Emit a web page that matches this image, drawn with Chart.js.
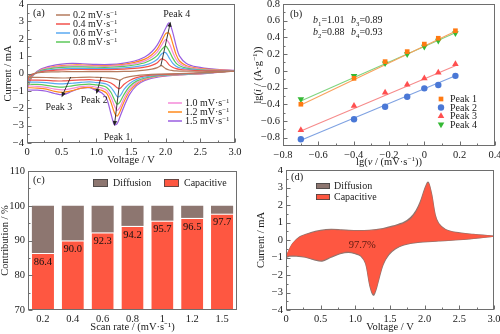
<!DOCTYPE html>
<html>
<head>
<meta charset="utf-8">
<script src="https://cdn.jsdelivr.net/npm/chart.js@4.4.0/dist/chart.umd.min.js"></script>
<style>
  html, body { margin: 0; padding: 0; background: #fff; }
  #wrap { position: relative; width: 500px; height: 334px; overflow: hidden; }
  .panel { position: absolute; width: 250px; height: 167px; }
  canvas { display: block; }
</style>
</head>
<body>
<div id="wrap">
  <div class="panel" style="left:0;top:0"><canvas id="cvA" width="250" height="167"></canvas></div>
  <div class="panel" style="left:250px;top:0"><canvas id="cvB" width="250" height="167"></canvas></div>
  <div class="panel" style="left:0;top:167px"><canvas id="cvC" width="250" height="167"></canvas></div>
  <div class="panel" style="left:250px;top:167px"><canvas id="cvD" width="250" height="167"></canvas></div>
</div>
<script>
// ---------- (a) CV curves at several scan rates ----------
const scanRates = ['0.2', '0.4', '0.6', '0.8', '1.0', '1.2', '1.5'];
const voltUp = [0, 0.05, 0.1, 0.2, 0.35, 0.5, 0.65, 0.8, 1.0, 1.2, 1.4, 1.55, 1.7, 1.8, 1.88, 1.94, 2.0, 2.05, 2.1, 2.15, 2.2, 2.3, 2.45, 2.7, 3.0];
const voltDown = [3.0, 2.6, 2.2, 1.9, 1.7, 1.58, 1.48, 1.4, 1.34, 1.3, 1.26, 1.21, 1.15, 1.08, 1.0, 0.9, 0.78, 0.65, 0.52, 0.4, 0.28, 0.15, 0.05, 0];

const up02 = [-0.22, -0.08, 0.0, 0.06, 0.09, 0.1, 0.11, 0.11, 0.11, 0.11, 0.12, 0.14, 0.19, 0.25, 0.34, 0.45, 0.28, 0.2, 0.17, 0.15, 0.14, 0.13, 0.13, 0.13, 0.13];
const down02 = [0.13, 0.06, 0.0, -0.04, -0.08, -0.12, -0.18, -0.26, -0.38, -0.34, -0.3, -0.27, -0.25, -0.23, -0.22, -0.21, -0.22, -0.24, -0.26, -0.25, -0.23, -0.22, -0.22, -0.22];
const up04 = [-0.38, -0.15, -0.02, 0.1, 0.17, 0.21, 0.23, 0.23, 0.22, 0.22, 0.25, 0.29, 0.37, 0.47, 0.62, 0.84, 0.74, 0.5, 0.36, 0.28, 0.24, 0.2, 0.17, 0.15, 0.14];
const down04 = [0.14, 0.05, -0.02, -0.07, -0.14, -0.24, -0.4, -0.62, -0.86, -0.82, -0.68, -0.55, -0.46, -0.41, -0.39, -0.35, -0.37, -0.4, -0.43, -0.42, -0.39, -0.38, -0.38, -0.38];
const up06 = [-0.5, -0.2, -0.04, 0.13, 0.22, 0.27, 0.29, 0.29, 0.28, 0.28, 0.32, 0.38, 0.48, 0.62, 0.82, 1.12, 1.2, 0.9, 0.6, 0.42, 0.33, 0.25, 0.2, 0.16, 0.15];
const down06 = [0.15, 0.04, -0.04, -0.1, -0.2, -0.34, -0.58, -0.92, -1.3, -1.32, -1.08, -0.8, -0.62, -0.55, -0.52, -0.48, -0.51, -0.56, -0.6, -0.58, -0.53, -0.5, -0.5, -0.5];
const up08 = [-0.62, -0.25, -0.05, 0.17, 0.29, 0.35, 0.38, 0.38, 0.36, 0.36, 0.41, 0.49, 0.62, 0.8, 1.04, 1.36, 1.58, 1.3, 0.9, 0.6, 0.45, 0.31, 0.23, 0.18, 0.16];
const down08 = [0.16, 0.04, -0.05, -0.12, -0.26, -0.44, -0.75, -1.2, -1.65, -1.76, -1.5, -1.08, -0.8, -0.7, -0.66, -0.61, -0.64, -0.71, -0.78, -0.75, -0.68, -0.63, -0.62, -0.62];
const up10 = [-0.72, -0.28, -0.06, 0.2, 0.34, 0.41, 0.44, 0.44, 0.42, 0.42, 0.48, 0.57, 0.73, 0.95, 1.25, 1.62, 1.95, 1.75, 1.25, 0.82, 0.58, 0.38, 0.27, 0.2, 0.17];
const down10 = [0.17, 0.03, -0.06, -0.14, -0.3, -0.53, -0.9, -1.42, -1.95, -2.12, -1.85, -1.35, -0.98, -0.84, -0.79, -0.72, -0.76, -0.86, -0.94, -0.9, -0.8, -0.74, -0.72, -0.72];
const up12 = [-0.82, -0.32, -0.06, 0.22, 0.37, 0.45, 0.49, 0.49, 0.46, 0.46, 0.53, 0.64, 0.83, 1.08, 1.42, 1.85, 2.3, 2.32, 1.75, 1.1, 0.72, 0.45, 0.31, 0.22, 0.17];
const down12 = [0.17, 0.02, -0.07, -0.16, -0.34, -0.6, -1.02, -1.62, -2.2, -2.45, -2.25, -1.65, -1.15, -0.97, -0.9, -0.8, -0.84, -0.99, -1.08, -1.03, -0.9, -0.84, -0.82, -0.82];
const up15 = [-0.95, -0.38, -0.05, 0.25, 0.44, 0.54, 0.58, 0.56, 0.52, 0.52, 0.6, 0.72, 0.95, 1.25, 1.65, 2.1, 2.6, 2.92, 2.4, 1.6, 1.0, 0.58, 0.38, 0.25, 0.18];
const down15 = [0.18, 0.01, -0.08, -0.2, -0.4, -0.7, -1.2, -1.9, -2.5, -2.88, -2.95, -2.3, -1.45, -1.12, -0.98, -0.82, -0.85, -1.02, -1.22, -1.15, -1.02, -0.96, -0.95, -0.95];

// ---------- (b) log peak current vs log scan rate ----------
const lgRate = [-0.699, -0.398, -0.222, -0.097, 0, 0.079, 0.176];
const lgPeak1 = [-0.40, -0.09, 0.11, 0.23, 0.32, 0.39, 0.48];
const lgPeak2 = [-0.82, -0.58, -0.43, -0.31, -0.21, -0.17, -0.06];
const lgPeak3 = [-0.71, -0.42, -0.26, -0.165, -0.09, -0.02, 0.08];
const lgPeak4 = [-0.34, -0.06, 0.09, 0.20, 0.29, 0.36, 0.45];
const fitX = [-0.699, 0.176];
const fitPeak1 = [-0.41, 0.475];
const fitPeak2 = [-0.83, -0.06];
const fitPeak3 = [-0.72, 0.06];
const fitPeak4 = [-0.36, 0.455];
const bValues = ['1.01', '0.88', '0.89', '0.93'];
const bTicksX = [-0.8, -0.6, -0.4, -0.2, 0, 0.2, 0.4];
const bTicksY = [-0.8, -0.6, -0.4, -0.2, 0, 0.2, 0.4, 0.6, 0.8];

// ---------- (c) contribution ratio ----------
const rateLabels = ['0.2', '0.4', '0.6', '0.8', '1', '1.2', '1.5'];
const capacitive = [86.4, 90.0, 92.3, 94.2, 95.7, 96.5, 97.7];
const diffusion = [13.6, 10.0, 7.7, 5.8, 4.3, 3.5, 2.3];

// ---------- (d) separated CV at 1.5 mV/s ----------
const totalUp = [-1.0, -0.55, -0.2, 0.18, 0.4, 0.54, 0.6, 0.57, 0.53, 0.55, 0.65, 0.8, 1.0, 1.28, 1.7, 2.2, 2.9, 3.3, 2.6, 1.45, 0.95, 0.6, 0.43, 0.32, 0.22];
const totalDown = [0.22, 0.05, -0.05, -0.13, -0.28, -0.5, -0.85, -1.4, -2.2, -2.8, -3.15, -2.6, -1.35, -0.92, -0.78, -0.7, -0.78, -0.98, -1.2, -1.12, -0.98, -0.92, -0.92, -1.0];
const capUp = [-0.95, -0.52, -0.18, 0.16, 0.37, 0.51, 0.57, 0.55, 0.51, 0.53, 0.62, 0.76, 0.95, 1.2, 1.62, 2.12, 2.84, 3.26, 2.56, 1.42, 0.93, 0.58, 0.41, 0.31, 0.21];
const capDown = [0.21, 0.06, -0.04, -0.11, -0.25, -0.46, -0.8, -1.35, -2.15, -2.75, -3.08, -2.55, -1.32, -0.88, -0.74, -0.66, -0.74, -0.94, -1.15, -1.08, -0.95, -0.88, -0.88, -0.95];
const capShare = '97.7%';

const FONT = '"Liberation Serif", "Times New Roman", serif';
Chart.defaults.font.family = FONT;
Chart.defaults.font.size = 10.5;
Chart.defaults.color = '#1a1a1a';
Chart.defaults.animation = false;
Chart.defaults.responsive = false;
Chart.defaults.plugins.legend.display = false;
Chart.defaults.plugins.tooltip.enabled = false;

const cvColors = ['#b47b5e', '#f2524c', '#5aaaf2', '#5cc85a', '#f58ad8', '#ff8a1c', '#9a5ee0'];
const RED = '#fe5741';
const GREY = '#8d7670';

function loop(up, down) {
  return voltUp.map((v, i) => ({ x: v, y: up[i] }))
    .concat(voltDown.map((v, i) => ({ x: v, y: down[i] })));
}

function minus(s) { return String(s).replace('-', '\u2212'); }
function fmt1(v) { return Math.abs(v) < 1e-9 ? '0' : minus(Number(v).toFixed(1)); }

// fixed-size axis boxes so every plot area lands at a fixed spot
function axis(size, extra) {
  const base = {
    grid: { display: false, drawTicks: false },
    border: { display: false },
    afterFit(s) {
      if (s.isHorizontal()) s.height = size; else s.width = size;
      s.paddingLeft = s.paddingRight = s.paddingTop = s.paddingBottom = 0;
    }
  };
  const out = Object.assign(base, extra);
  out.ticks = Object.assign({ padding: 3, maxRotation: 0, autoSkip: false, font: { size: 10.5 } }, extra.ticks || {});
  return out;
}

// text with italic / sub / superscript runs
function rich(ctx, parts, x, y, size, opt = {}) {
  const fonts = parts.map(p => (p.i ? 'italic ' : '') + (p.s ? size * 0.68 : size) + 'px ' + FONT);
  let w = 0;
  parts.forEach((p, k) => { ctx.font = fonts[k]; w += ctx.measureText(p.t).width; });
  ctx.save();
  ctx.translate(x, y);
  if (opt.rotate) ctx.rotate(-Math.PI / 2);
  let cx = opt.align === 'left' ? 0 : -w / 2;
  ctx.textBaseline = 'alphabetic';
  ctx.textAlign = 'left';
  parts.forEach((p, k) => {
    ctx.font = fonts[k];
    const dy = p.s === 'sup' ? -size * 0.38 : p.s === 'sub' ? size * 0.22 : 0;
    ctx.fillText(p.t, cx, size * 0.34 + dy);
    cx += ctx.measureText(p.t).width;
  });
  ctx.restore();
}

// box frame with inward major/minor ticks on the bottom and left
const frame = {
  id: 'frame',
  afterDatasetsDraw(chart) {
    const { ctx, chartArea: a, scales } = chart;
    ctx.save();
    ctx.strokeStyle = '#6e6e6e';
    ctx.lineWidth = 1;
    const L = Math.round(a.left) + 0.5, T = Math.round(a.top) + 0.5;
    const R = Math.round(a.right) - 0.5, B = Math.round(a.bottom) - 0.5;
    ctx.strokeRect(L, T, R - L, B - T);
    ctx.beginPath();
    ['x', 'y'].forEach(id => {
      const s = scales[id];
      if (s.type === 'category') return;
      const vals = s.ticks.map(t => t.value);
      const marks = [];
      vals.forEach((v, i) => {
        marks.push([v, 4]);
        if (i < vals.length - 1) marks.push([(v + vals[i + 1]) / 2, 2]);
      });
      marks.forEach(([v, len]) => {
        const p = Math.round(s.getPixelForValue(v)) + 0.5;
        if (id === 'x') { ctx.moveTo(p, B); ctx.lineTo(p, B - len); }
        else { ctx.moveTo(L, p); ctx.lineTo(L + len, p); }
      });
    });
    ctx.stroke();
    ctx.restore();
  }
};

function panelTag(text, x, y) {
  return {
    id: 'tag',
    afterDraw(chart) {
      const ctx = chart.ctx;
      ctx.save();
      ctx.font = '10.5px ' + FONT;
      ctx.fillStyle = '#1a1a1a';
      ctx.textBaseline = 'middle';
      ctx.fillText(text, x, y);
      ctx.restore();
    }
  };
}

// ---------- chart (a) ----------
const cvSets = [[up02, down02], [up04, down04], [up06, down06], [up08, down08], [up10, down10], [up12, down12], [up15, down15]];

// peak markers: arrow from the slowest to the fastest scan, in volts / mA
const peakMarks = [
  { text: 'Peak 1', from: [1.34, -0.38], to: [1.26, -3.02], at: [1.30, -3.62] },
  { text: 'Peak 2', from: [1.07, -0.2], to: [1.0, -1.18], at: [0.97, -1.5] },
  { text: 'Peak 3', from: [0.63, -0.2], to: [0.5, -1.36], at: [0.46, -1.88] },
  { text: 'Peak 4', from: [1.93, 0.44], to: [2.07, 2.98], at: [2.16, 3.42] }
];

const cvDecor = {
  id: 'cvDecor',
  afterDraw(chart) {
    const { ctx, scales: { x, y } } = chart;
    ctx.save();
    ctx.strokeStyle = '#222';
    ctx.fillStyle = '#222';
    ctx.lineWidth = 0.9;
    peakMarks.forEach(m => {
      const x0 = x.getPixelForValue(m.from[0]), y0 = y.getPixelForValue(m.from[1]);
      const x1 = x.getPixelForValue(m.to[0]), y1 = y.getPixelForValue(m.to[1]);
      const ang = Math.atan2(y1 - y0, x1 - x0);
      ctx.beginPath();
      ctx.moveTo(x0, y0);
      ctx.lineTo(x1 - 4 * Math.cos(ang), y1 - 4 * Math.sin(ang));
      ctx.stroke();
      ctx.beginPath();
      ctx.moveTo(x1, y1);
      ctx.lineTo(x1 - 5 * Math.cos(ang) + 2.2 * Math.sin(ang), y1 - 5 * Math.sin(ang) - 2.2 * Math.cos(ang));
      ctx.lineTo(x1 - 5 * Math.cos(ang) - 2.2 * Math.sin(ang), y1 - 5 * Math.sin(ang) + 2.2 * Math.cos(ang));
      ctx.closePath();
      ctx.fill();
      rich(ctx, [{ t: m.text }], x.getPixelForValue(m.at[0]), y.getPixelForValue(m.at[1]), 10);
    });
    // legend in two groups
    chart.data.datasets.forEach((ds, i) => {
      const lx = i < 4 ? 56 : 168;
      const ly = i < 4 ? 15 + i * 9 : 103 + (i - 4) * 9;
      ctx.strokeStyle = ds.borderColor;
      ctx.lineWidth = 1.5;
      ctx.beginPath();
      ctx.moveTo(lx, ly);
      ctx.lineTo(lx + 14, ly);
      ctx.stroke();
      ctx.fillStyle = '#1a1a1a';
      rich(ctx, [{ t: scanRates[i] + ' mV\u00b7s' }, { t: '\u22121', s: 'sup' }], lx + 17, ly, 10, { align: 'left' });
    });
    ctx.restore();
  }
};

new Chart(document.getElementById('cvA'), {
  type: 'line',
  data: {
    datasets: cvSets.map((s, i) => ({
      label: scanRates[i],
      data: loop(s[0], s[1]),
      borderColor: cvColors[i],
      borderWidth: 1.2,
      pointRadius: 0,
      tension: 0.3,
      fill: false
    }))
  },
  options: {
    layout: { padding: { left: 0, top: 4, right: 15, bottom: 0 } },
    scales: {
      x: axis(24, { type: 'linear', min: 0, max: 3, ticks: { stepSize: 0.5, callback: fmt1 },
        title: { display: true, text: 'Voltage / V', padding: { top: 0, bottom: 0 }, font: { size: 10.5 } } }),
      y: axis(27, { type: 'linear', min: -4, max: 4, ticks: { stepSize: 1, callback: v => minus(v) },
        title: { display: true, text: 'Current / mA', padding: { top: 1.5, bottom: 0 }, font: { size: 10.5 } } })
    }
  },
  plugins: [frame, cvDecor, panelTag('(a)', 33, 13)]
});

// ---------- chart (b) ----------
const peakStyles = [
  { label: 'Peak 1', data: lgPeak1, fit: fitPeak1, color: '#ff7a12', line: '#f9a25e', style: 'rect', rot: 0, r: 3.3 },
  { label: 'Peak 2', data: lgPeak2, fit: fitPeak2, color: '#4a78d6', line: '#7fa2e2', style: 'circle', rot: 0, r: 3.2 },
  { label: 'Peak 3', data: lgPeak3, fit: fitPeak3, color: '#ff4f4f', line: '#f68b8b', style: 'triangle', rot: 0, r: 3.8 },
  { label: 'Peak 4', data: lgPeak4, fit: fitPeak4, color: '#35b935', line: '#7fd47f', style: 'triangle', rot: 180, r: 3.8 }
];

const bDecor = {
  id: 'bDecor',
  afterDraw(chart) {
    const ctx = chart.ctx;
    ctx.save();
    ctx.fillStyle = '#1a1a1a';
    // fitted slopes
    const spots = [[63, 20], [63, 32], [101, 20], [101, 32]];
    bValues.forEach((b, i) => {
      rich(ctx, [{ t: 'b', i: 1 }, { t: String(i + 1), s: 'sub' }, { t: '=' + b }], spots[i][0], spots[i][1], 10, { align: 'left' });
    });
    // axis titles
    const a = chart.chartArea;
    rich(ctx, [{ t: 'lg(' }, { t: 'i', i: 1 }, { t: ' / (A\u00b7g' }, { t: '\u22121', s: 'sup' }, { t: '))' }], 7, (a.top + a.bottom) / 2, 10.5, { rotate: true });
    rich(ctx, [{ t: 'lg(' }, { t: 'v', i: 1 }, { t: ' / (mV\u00b7s' }, { t: '\u22121', s: 'sup' }, { t: '))' }], (a.left + a.right) / 2, 161, 10.5);
    // legend
    peakStyles.forEach((p, i) => {
      const ly = 99 + i * 8.5;
      ctx.fillStyle = p.color;
      Chart.helpers.drawPoint(ctx, { pointStyle: p.style, rotation: p.rot, radius: p.r, borderWidth: 0 }, 191, ly);
      ctx.fillStyle = '#1a1a1a';
      rich(ctx, [{ t: p.label }], 200, ly, 10, { align: 'left' });
    });
    ctx.restore();
  }
};

function fixedTicks(list) {
  return {
    afterBuildTicks(s) { s.ticks = list.map(v => ({ value: v })); },
    afterTickToLabelConversion(s) { s.ticks.forEach(t => { t.label = fmt1(t.value); }); }
  };
}

new Chart(document.getElementById('cvB'), {
  type: 'scatter',
  data: {
    datasets: peakStyles.map(p => ({
      data: lgRate.map((v, i) => ({ x: v, y: p.data[i] })),
      backgroundColor: p.color,
      borderWidth: 0,
      pointStyle: p.style,
      rotation: p.rot,
      pointRadius: p.r
    })).concat(peakStyles.map(p => ({
      data: fitX.map((v, i) => ({ x: v, y: p.fit[i] })),
      showLine: true,
      borderColor: p.line,
      borderWidth: 1.1,
      pointRadius: 0
    })))
  },
  options: {
    layout: { padding: { left: 0, top: 4, right: 5, bottom: 0 } },
    scales: {
      x: axis(21, Object.assign({ type: 'linear', min: -0.8, max: 0.4 }, fixedTicks(bTicksX))),
      y: axis(33, Object.assign({ type: 'linear', min: -0.9, max: 0.8 }, fixedTicks(bTicksY)))
    }
  },
  plugins: [frame, bDecor, panelTag('(b)', 40, 14)]
});

// ---------- chart (c) ----------
const barDecor = {
  id: 'barDecor',
  afterDraw(chart) {
    const ctx = chart.ctx;
    ctx.save();
    ctx.fillStyle = '#111';
    ctx.textAlign = 'center';
    ctx.textBaseline = 'middle';
    ctx.font = '10.5px ' + FONT;
    chart.getDatasetMeta(0).data.forEach((bar, i) => {
      ctx.fillText(capacitive[i].toFixed(1), bar.x, bar.y + 9);
    });
    // legend boxes
    [[93, 'Diffusion', GREY], [164, 'Capacitive', RED]].forEach(([lx, txt, col]) => {
      ctx.fillStyle = col;
      ctx.fillRect(lx, 12, 15, 8);
      ctx.strokeStyle = '#444';
      ctx.lineWidth = 0.8;
      ctx.strokeRect(lx + 0.4, 12.4, 14.2, 7.2);
      ctx.fillStyle = '#1a1a1a';
      rich(ctx, [{ t: txt }], lx + 20, 16, 10, { align: 'left' });
    });
    ctx.restore();
  }
};

new Chart(document.getElementById('cvC'), {
  type: 'bar',
  data: {
    labels: rateLabels,
    datasets: [
      { label: 'Capacitive', data: capacitive, backgroundColor: RED,
        borderColor: '#ffffff', borderWidth: { top: 1, left: 0, right: 0, bottom: 0 }, borderSkipped: false },
      { label: 'Diffusion', data: diffusion, backgroundColor: GREY, borderWidth: 0 }
    ]
  },
  options: {
    datasets: { bar: { barPercentage: 0.74, categoryPercentage: 1 } },
    layout: { padding: { left: 0, top: 4, right: 13, bottom: 0 } },
    scales: {
      x: axis(24, { stacked: true,
        title: { display: true, text: 'Scan rate / (mV\u00b7s\u207b\u00b9)', padding: { top: 0, bottom: 0 }, font: { size: 10.5 } } }),
      y: axis(28, { stacked: true, min: 70, max: 110, ticks: { stepSize: 10 },
        title: { display: true, text: 'Contribution / %', padding: { top: -1, bottom: 0 }, font: { size: 10.5 } } })
    }
  },
  plugins: [frame, barDecor, panelTag('(c)', 33, 13)]
});

// ---------- chart (d) ----------
const dDecor = {
  id: 'dDecor',
  afterDraw(chart) {
    const { ctx, scales: { x, y } } = chart;
    ctx.save();
    ctx.fillStyle = '#5a1a10';
    rich(ctx, [{ t: capShare }], x.getPixelForValue(1.1), y.getPixelForValue(-0.28), 10.5);
    [[19, 'Diffusion', GREY], [30, 'Capacitive', RED]].forEach(([ly, txt, col]) => {
      ctx.fillStyle = col;
      ctx.fillRect(66, ly - 3, 14, 6);
      ctx.strokeStyle = '#444';
      ctx.lineWidth = 0.8;
      ctx.strokeRect(66.4, ly - 2.6, 13.2, 5.2);
      ctx.fillStyle = '#1a1a1a';
      rich(ctx, [{ t: txt }], 84, ly, 10, { align: 'left' });
    });
    ctx.restore();
  }
};

new Chart(document.getElementById('cvD'), {
  type: 'line',
  data: {
    datasets: [
      { data: loop(capUp, capDown), backgroundColor: RED, borderColor: RED, borderWidth: 0.5,
        fill: 'shape', pointRadius: 0, tension: 0.3 },
      { data: loop(totalUp, totalDown), backgroundColor: GREY, borderColor: GREY, borderWidth: 1.4,
        fill: 'shape', pointRadius: 0, tension: 0.3 }
    ]
  },
  options: {
    layout: { padding: { left: 0, top: 3, right: 6, bottom: 0 } },
    scales: {
      x: axis(24, { type: 'linear', min: 0, max: 3, ticks: { stepSize: 0.5, callback: fmt1 },
        title: { display: true, text: 'Voltage / V', padding: { top: 0, bottom: 0 }, font: { size: 10.5 } } }),
      y: axis(36, { type: 'linear', min: -4, max: 4, ticks: { stepSize: 1, callback: v => minus(v) },
        title: { display: true, text: 'Current / mA', padding: { top: 5, bottom: 0 }, font: { size: 10.5 } } })
    }
  },
  plugins: [frame, dDecor, panelTag('(d)', 41, 10)]
});
</script>
</body>
</html>
